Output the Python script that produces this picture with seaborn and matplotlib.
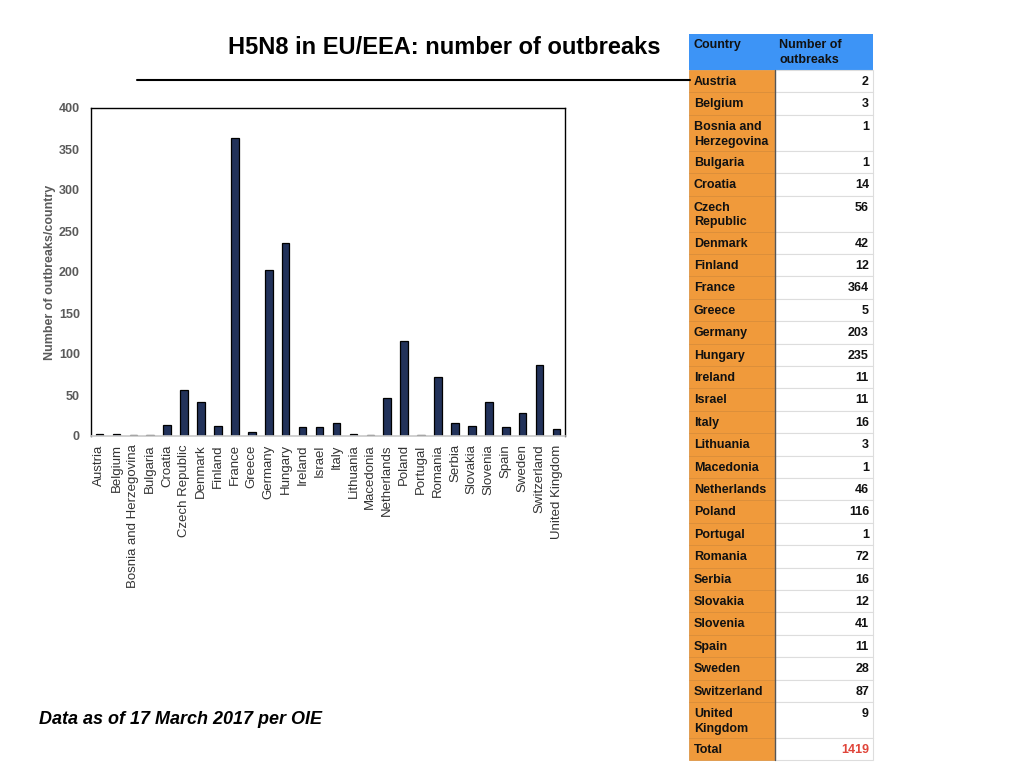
import matplotlib
matplotlib.use("Agg")
import matplotlib.pyplot as plt
import seaborn as sns
import pandas as pd
from matplotlib.patches import Rectangle
from matplotlib.lines import Line2D

countries = ["Austria", "Belgium", "Bosnia and Herzegovina", "Bulgaria", "Croatia",
             "Czech Republic", "Denmark", "Finland", "France", "Greece", "Germany",
             "Hungary", "Ireland", "Israel", "Italy", "Lithuania", "Macedonia",
             "Netherlands", "Poland", "Portugal", "Romania", "Serbia", "Slovakia",
             "Slovenia", "Spain", "Sweden", "Switzerland", "United Kingdom"]
outbreaks = [2, 3, 1, 1, 14, 56, 42, 12, 364, 5, 203, 235, 11, 11, 16, 3, 1,
             46, 116, 1, 72, 16, 12, 41, 11, 28, 87, 9]
table_labels = ["Austria", "Belgium", "Bosnia and\nHerzegovina", "Bulgaria", "Croatia",
                "Czech\nRepublic", "Denmark", "Finland", "France", "Greece", "Germany",
                "Hungary", "Ireland", "Israel", "Italy", "Lithuania", "Macedonia",
                "Netherlands", "Poland", "Portugal", "Romania", "Serbia", "Slovakia",
                "Slovenia", "Spain", "Sweden", "Switzerland", "United\nKingdom"]
total_value = 1419
yticks = [0, 50, 100, 150, 200, 250, 300, 350, 400]

sns.set_theme(style="white")
plt.rcParams['font.family'] = ['Liberation Sans', 'DejaVu Sans']

W, H = 1024, 768
fig = plt.figure(figsize=(W / 100, H / 100), dpi=100)

def fx(px):
    return px / W

def fy(py):
    return 1 - py / H

ax = fig.add_axes([fx(91), fy(436), fx(565) - fx(91), fy(108) - fy(436)])
df = pd.DataFrame({"country": countries, "n": outbreaks})
sns.barplot(data=df, x="country", y="n", ax=ax, color="#22325a",
            edgecolor="black", linewidth=0.9, width=0.45, saturation=1)
ax.set_ylim(0, 400)
ax.set_xlim(-0.5, len(countries) - 0.5)
ax.set_yticks(yticks)
ax.set_yticklabels([str(v) for v in yticks], fontsize=9, fontweight="bold", color="#5a5a5a")
ax.set_xticks(range(len(countries)))
ax.set_xticklabels(countries, rotation=90, fontsize=9.5, color="#333333")
ax.tick_params(axis="y", length=0, pad=8)
ax.tick_params(axis="x", length=0, pad=6)
ax.set_xlabel("")
ax.set_ylabel("Number of outbreaks/country", fontsize=9, fontweight="bold", color="#5a5a5a")
ax.yaxis.set_label_coords((56 - 91) / 474, 0.5)
for s in ["top", "left", "right"]:
    ax.spines[s].set_color("black")
    ax.spines[s].set_linewidth(1.0)
ax.spines["bottom"].set_color("#c8c8c8")
ax.spines["bottom"].set_linewidth(1.2)

# Title and rule
fig.text(fx(444), fy(47), "H5N8 in EU/EEA: number of outbreaks", ha="center", va="center",
         fontsize=17, fontweight="bold", color="black")
fig.add_artist(Line2D([fx(137), fx(690)], [fy(80), fy(80)], color="black", lw=1.5))

# Footnote
fig.text(fx(39), fy(720), "Data as of 17 March 2017 per OIE", ha="left", va="center",
         fontsize=13, fontweight="bold", fontstyle="italic", color="black")

# Table
c0, c1, c2 = 689, 775, 873
orange = "#f09a3b"
blue = "#3d94f6"
rows = [("Country", "Number of\noutbreaks", "header")]
rows += [(lab, str(v), "row") for lab, v in zip(table_labels, outbreaks)]
rows += [("Total", str(total_value), "total")]

fs = 9
y = 34
for lab, val, kind in rows:
    two = "\n" in lab or "\n" in val
    h = 36 if two else 22.4
    if kind == "header":
        fig.add_artist(Rectangle((fx(c0), fy(y + h)), fx(c2) - fx(c0), fy(y) - fy(y + h),
                                 facecolor=blue, edgecolor="none"))
        fig.text(fx(c0 + 5), fy(y + 5), lab, ha="left", va="top", fontsize=fs,
                 fontweight="bold", color="#111111", linespacing=1.3)
        fig.text(fx(c1 + 4), fy(y + 5), val, ha="left", va="top", fontsize=fs,
                 fontweight="bold", color="#111111", linespacing=1.3)
    else:
        fig.add_artist(Rectangle((fx(c0), fy(y + h)), fx(c1) - fx(c0), fy(y) - fy(y + h),
                                 facecolor=orange, edgecolor="#d88a35", lw=0.5))
        fig.add_artist(Rectangle((fx(c1), fy(y + h)), fx(c2) - fx(c1), fy(y) - fy(y + h),
                                 facecolor="white", edgecolor="#dddddd", lw=0.8))
        fig.text(fx(c0 + 5), fy(y + 6), lab, ha="left", va="top", fontsize=fs,
                 fontweight="bold", color="#111111", linespacing=1.3)
        fig.text(fx(c2 - 4), fy(y + 6), val, ha="right", va="top", fontsize=fs,
                 fontweight="bold", color="#e0453a" if kind == "total" else "#111111")
    y += h
fig.add_artist(Line2D([fx(c1), fx(c1)], [fy(70), fy(y)], color="#555555", lw=1.0))

fig.savefig("out.png", dpi=100, facecolor="white")
